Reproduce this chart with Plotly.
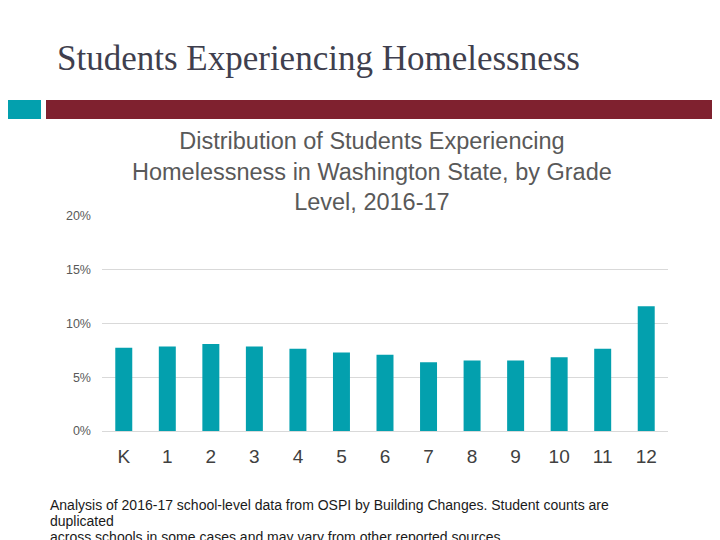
import plotly.graph_objects as go

# Data
grades = ["K", "1", "2", "3", "4", "5", "6", "7", "8", "9", "10", "11", "12"]
share_pct = [7.75, 7.85, 8.1, 7.85, 7.65, 7.3, 7.1, 6.4, 6.55, 6.55, 6.85, 7.65, 11.6]
y_ticks = [0, 0.05, 0.10, 0.15, 0.20]

slide_title = "Students Experiencing Homelessness"
chart_title = ("Distribution of Students Experiencing<br>"
               "Homelessness in Washington State, by Grade<br>"
               "Level, 2016-17")
footnote_lines = [
    "Analysis of 2016-17 school-level data from OSPI by Building Changes. Student counts are",
    "duplicated",
    "across schools in some cases and may vary from other reported sources.",
]

TEAL = "#03A0AE"
MAROON = "#7F212F"

# plot area in screenshot pixels; the page body adds an 8px offset
OFF = 8
L, R, T, B = 102, 668, 216, 431
pw, ph = R - L, B - T


def px(x):
    return (x - L) / pw


def py(y):
    return (B - y) / ph


fig = go.Figure(go.Bar(
    x=grades,
    y=[v / 100 for v in share_pct],
    marker_color=TEAL,
    marker_line_width=0,
))

fig.update_layout(
    width=720, height=540 - OFF,
    margin=dict(l=L - OFF, r=720 + OFF - R, t=T - OFF, b=540 - B),
    plot_bgcolor="white",
    paper_bgcolor="white",
    showlegend=False,
    bargap=0.61,
    font=dict(family="Liberation Sans, Arial, sans-serif"),
)

fig.update_yaxes(
    range=[0, 0.2],
    tickvals=y_ticks,
    tickformat=".0%",
    tickfont=dict(size=12.5, color="#595959"),
    ticklabelstandoff=10,
    showgrid=True, gridcolor="#D9D9D9", gridwidth=1,
    zeroline=True, zerolinecolor="#D9D9D9", zerolinewidth=1,
    showline=False,
)
fig.update_xaxes(
    tickfont=dict(size=19, color="#404040"),
    ticklabelstandoff=12,
    showline=False,
    showgrid=False,
)

# header strips
fig.add_shape(type="rect", xref="paper", yref="paper",
              x0=px(0), x1=px(41), y0=py(119), y1=py(100),
              fillcolor=TEAL, line_width=0)
fig.add_shape(type="rect", xref="paper", yref="paper",
              x0=px(46), x1=px(730), y0=py(119), y1=py(100),
              fillcolor=MAROON, line_width=0)

fig.add_annotation(
    text=slide_title, xref="paper", yref="paper",
    x=px(55), y=py(58), xanchor="left", yanchor="middle",
    showarrow=False,
    font=dict(family="Liberation Serif, Times New Roman, serif", size=35, color="#3F3F4E"),
)
fig.add_annotation(
    text=chart_title, xref="paper", yref="paper",
    x=px(372), y=py(171), xanchor="center", yanchor="middle",
    showarrow=False,
    font=dict(size=23.5, color="#595959"),
)
for i, line in enumerate(footnote_lines):
    fig.add_annotation(
        text=line, xref="paper", yref="paper",
        x=px(48), y=py(505 + 16 * i), xanchor="left", yanchor="middle",
        showarrow=False,
        font=dict(size=14, color="#1A1A1A"),
    )

fig.write_html("out.html")
